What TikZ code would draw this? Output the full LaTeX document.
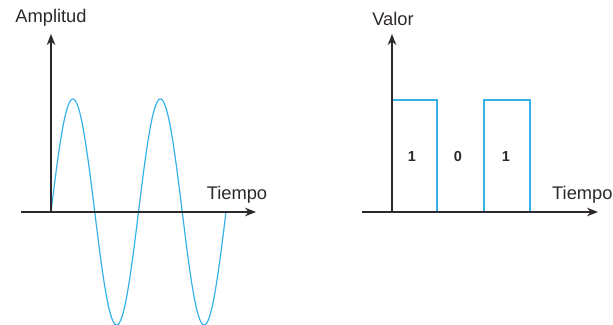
\documentclass[tikz,border=0pt]{standalone}
\usepackage{fontspec}
\setmainfont{Liberation Sans}
\usetikzlibrary{arrows.meta, positioning, calc}
\definecolor{signal}{RGB}{52,178,232}
\definecolor{ink}{RGB}{45,40,45}

\begin{document}
\begin{tikzpicture}[x=1pt, y=-1pt, >=Stealth,
    axis/.style={ink, line width=2.5pt, ->, >={Stealth[length=11pt, width=8.5pt]}},
    wave/.style={signal, line width=1.2pt},
    lbl/.style={text=ink, font=\fontsize{18.3}{21}\selectfont, inner sep=1pt},
    bit/.style={text=ink, font=\fontsize{14.5}{16}\selectfont\bfseries, inner sep=1pt}]
        \useasboundingbox (0,0) rectangle (613,324);
        % Analog signal
        \coordinate (o1) at (51,212);
        \coordinate (x1s) at (21,212);
        \coordinate (x1e) at (256,212);
        \coordinate (y1e) at (51,34);
        \draw [wave] plot[domain=0:720, samples=200] ({51+0.24306*\x}, {212-113*sin(\x)});
        \draw [axis] (x1s) -- (x1e);
        \draw [axis] (o1) -- (y1e);
        \node [lbl, anchor=south] (amp) at (51,27) {Amplitud};
        \node [lbl, anchor=base] (t1) at (237,199) {Tiempo};
        % Digital signal
        \coordinate (o2) at (392,212);
        \coordinate (x2s) at (362,212);
        \coordinate (x2e) at (598,212);
        \coordinate (y2e) at (392,34);
        \draw [wave] (393,100) -- (437,100) -- (437,212);
        \draw [wave] (484,212) -- (484,100) -- (530,100) -- (530,212);
        \draw [axis] (x2s) -- (x2e);
        \draw [axis] (o2) -- (y2e);
        \node [lbl, anchor=south] (val) at (393,27) {Valor};
        \node [lbl, anchor=base west] (t2) at (551,199) {Tiempo};
        \node [bit] (b1) at (412,157) {1};
        \node [bit] (b2) at (458,157) {0};
        \node [bit] (b3) at (506,157) {1};
    \end{tikzpicture}
\end{document}
